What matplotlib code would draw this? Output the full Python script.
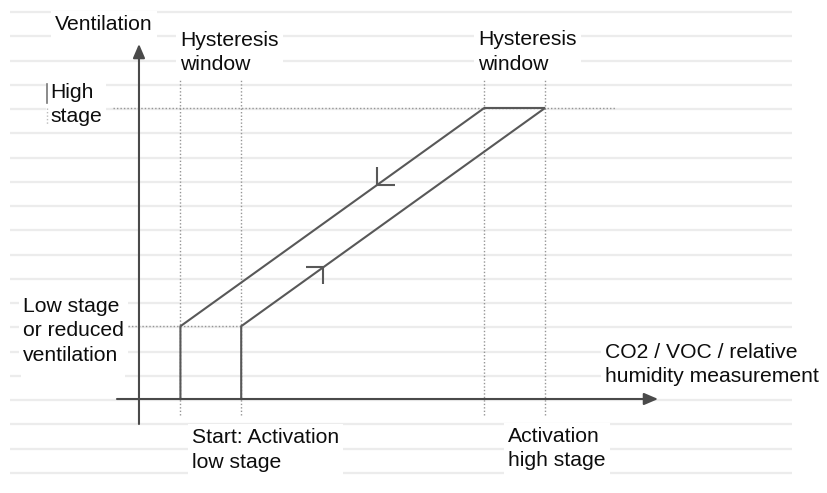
import numpy as np
import matplotlib
matplotlib.use("Agg")
import matplotlib.pyplot as plt
from matplotlib.path import Path
from matplotlib.patches import Rectangle

## DATA
# switching points on the measurement axis (ppm)
low_off, low_on = 600, 700
high_off, high_on = 1100, 1200
thresholds = [low_off, low_on, high_off, high_on]

# ventilation levels (%)
low_stage = 25
high_stage = 100

# hysteresis loop, from the start point round to the switch-off point
loop_x = [low_on, low_on, high_on, high_off, low_off, low_off]
loop_y = [0, low_stage, high_stage, high_stage, low_stage, 0]

label_texts = [
    "Ventilation",
    "Hysteresis\nwindow",
    "Hysteresis\nwindow",
    "High\nstage",
    "Low stage\nor reduced\nventilation",
    "CO2 / VOC / relative\nhumidity measurement",
    "Start: Activation\nlow stage",
    "Activation\nhigh stage",
]

## STYLE
FONT = ["Liberation Sans", "DejaVu Sans"]
AXIS_COL = "#4a4a4a"
LOOP_COL = "#585858"
DOT_COL = "#959595"
RULE_COL = "#ececec"
W, H = 828, 493
LINE_STEP = 24.5  # px between text lines

fig = plt.figure(figsize=(W / 100, H / 100), dpi=100)
fig.patch.set_facecolor("white")

# background layer in pixel units: ruled paper + labels
bg = fig.add_axes([0, 0, 1, 1])
bg.set_xlim(0, W)
bg.set_ylim(H, 0)
bg.axis("off")

rows = 12 + 24.25 * np.arange(20)
bg.hlines(rows, 10, 792, color=RULE_COL, lw=1.6, zorder=0)

# white patch under the low stage label runs a bit lower than the text
bg.add_patch(Rectangle((21, 290), 104, 98, facecolor="white",
                       edgecolor="none", zorder=1))

# left edge of each label, baseline of its first line
label_pos = [(55, 30), (180, 46), (478, 45), (50, 98), (23, 312),
             (605, 358), (192, 443), (508, 442)]
for (lx, ly), s in zip(label_pos, label_texts):
    # baseline alignment lands on the last line of a block
    ly_last = ly + LINE_STEP * s.count("\n")
    bg.text(lx, ly_last, s, fontsize=15.2, family=FONT, color="#0d0d0d",
            ha="left", va="baseline", linespacing=1.38, zorder=2,
            bbox=dict(facecolor="white", edgecolor="none", pad=3))

# small stray tick left of "High"
bg.plot([47, 47], [84, 103], color="#777777", lw=1.2, zorder=3)
bg.plot([47, 47], [108, 124], color="#bbbbbb", lw=1, ls=(0, (1, 1.5)), zorder=3)

## DIAGRAM
ax = fig.add_axes([0, 0, 1, 1])
ax.patch.set_alpha(0)
ax.axis("off")
ax.set_xlim(303.1, 1665.6)
ax.set_ylim(-32.3, 137.1)

arrow = dict(arrowstyle="-|>,head_length=0.7,head_width=0.3", color=AXIS_COL,
             lw=1.5, mutation_scale=12, shrinkA=0, shrinkB=0)
ax.annotate("", xy=(1386, 0), xytext=(495.6, 0), arrowprops=arrow)
ax.annotate("", xy=(531.8, 122), xytext=(531.8, -8.6), arrowprops=arrow)

# dotted guides
dots = (0, (1, 1.5))
ax.vlines(thresholds, -5.5, 109.6, color=DOT_COL, lw=1, linestyles=dots)
ax.hlines(high_stage, 489, 1315, color=DOT_COL, lw=1, linestyles=dots)
ax.hlines(low_stage, 513.7, low_on, color=DOT_COL, lw=1, linestyles=dots)

# the loop itself
ax.plot(loop_x, loop_y, color=LOOP_COL, lw=1.5, solid_joinstyle="miter")

# direction ticks on the two ramps
down_x = 923.5
down_y = np.interp(down_x, [low_off, high_off], [low_stage, high_stage])
up_x = 834.6
up_y = np.interp(up_x, [low_on, high_on], [low_stage, high_stage])

down_mark = Path([(0, 1), (0, 0), (1, 0)])
up_mark = Path([(-1, 0), (0, 0), (0, -1)])
ax.plot([down_x], [down_y], marker=down_mark, ms=26, mfc="none",
        mec=LOOP_COL, mew=1.5, ls="none")
ax.plot([up_x], [up_y], marker=up_mark, ms=24, mfc="none",
        mec=LOOP_COL, mew=1.5, ls="none")

fig.savefig("out.png", dpi=100, facecolor="white")
